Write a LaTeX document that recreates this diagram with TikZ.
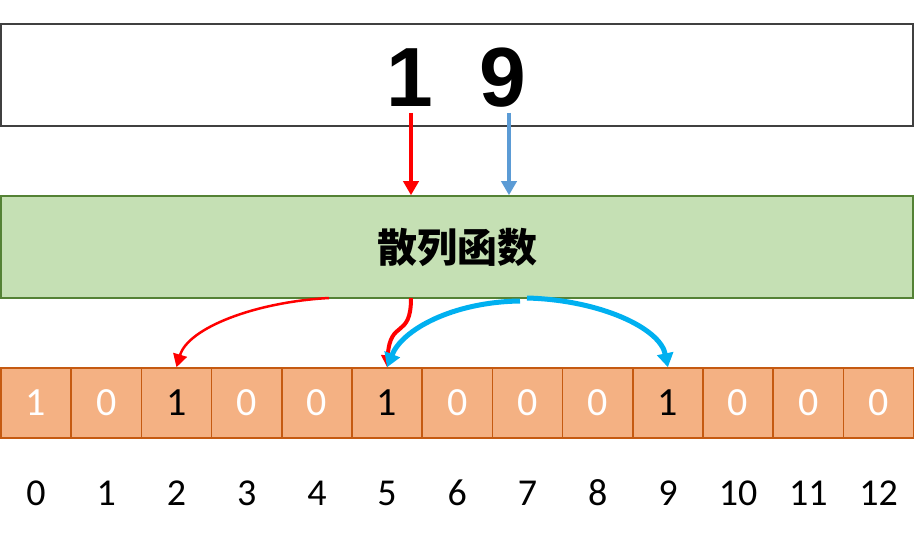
\documentclass[tikz,border=0pt]{standalone}
\usepackage{fontspec}
\setmainfont{Carlito}
\newfontfamily\numfont{Liberation Sans}
\newfontfamily\cjkfont{Noto Sans CJK SC}
\usepackage{tikz}
\usetikzlibrary{arrows.meta, positioning}
\definecolor{boxline}{HTML}{404040}
\definecolor{hashfill}{HTML}{C5E0B4}
\definecolor{hashline}{HTML}{548235}
\definecolor{cellfill}{HTML}{F4B183}
\definecolor{cellline}{HTML}{C55A11}
\definecolor{keyred}{HTML}{FF0000}
\definecolor{keyblue}{HTML}{5B9BD5}
\definecolor{hitblue}{HTML}{00B0F0}

\begin{document}
\begin{tikzpicture}[x=1pt, y=-1pt,
        wide/.style={line width=1.5pt, minimum width=912pt, minimum height=102pt, inner sep=0pt},
        cell/.style={draw=cellline, fill=cellfill, line width=1.5pt, minimum width=70.2pt, minimum height=70pt, inner sep=0pt, font=\fontsize{40}{40}\selectfont},
        idx/.style={font=\fontsize{38}{38}\selectfont, text height=25pt, text depth=0pt, inner sep=0pt},
        key/.style={font=\numfont\bfseries\fontsize{84}{84}\selectfont, anchor=base, inner sep=0pt}]
    \useasboundingbox (0,0) rectangle (921,537);
    % input and hash function
    \node[wide, draw=boxline] (input) at (457,75) {};
    \node[key] (d1) at (410,107) {1};
    \node[key] (d9) at (503,107) {9};
    \node[wide, draw=hashline, fill=hashfill] (hash) at (457,247) {\cjkfont\bfseries\fontsize{40}{40}\selectfont 散列函数};
    % bit array
    \foreach \i/\v/\c in {0/1/white, 1/0/white, 2/1/black, 3/0/white, 4/0/white, 5/1/black, 6/0/white,
                          7/0/white, 8/0/white, 9/1/black, 10/0/white, 11/0/white, 12/0/white} {
        \node[cell, text=\c] (c\i) at ({1+70.2*(\i+0.5)},403) {\v};
        \node[idx, below=42pt of c\i] (i\i) {\i};
    }
    % keys into the hash function
    \coordinate (r0) at (411,113);
    \coordinate (b0) at (509,113);
    \draw[keyred, line width=4pt, -{Triangle[length=14pt, width=15pt]}] (r0) -- (r0 |- hash.north);
    \draw[keyblue, line width=4pt, -{Triangle[length=14pt, width=15pt]}] (b0) -- (b0 |- hash.north);
    % hash results
    \coordinate (r1) at (329,298);
    \coordinate (r2) at (411,298);
    \coordinate (b1) at (520,301);
    \coordinate (b2) at (527,298);
    \draw[keyred, line width=2.5pt, -{Triangle[length=13pt, width=14pt]}] (r1) .. controls (255,302) and (188,328) .. (c2.north);
    \draw[keyred, line width=4pt, -{Triangle[length=12pt, width=13pt]}] (r2) .. controls (411,340) and (390,318) .. (c5.north);
    \draw[hitblue, line width=5pt, -{Triangle[length=14pt, width=16pt]}] (b1) .. controls (452,302) and (402,330) .. (c5.north);
    \draw[hitblue, line width=5pt, -{Triangle[length=14pt, width=16pt]}] (b2) .. controls (600,300) and (660,328) .. (c9.north);
\end{tikzpicture}
\end{document}
